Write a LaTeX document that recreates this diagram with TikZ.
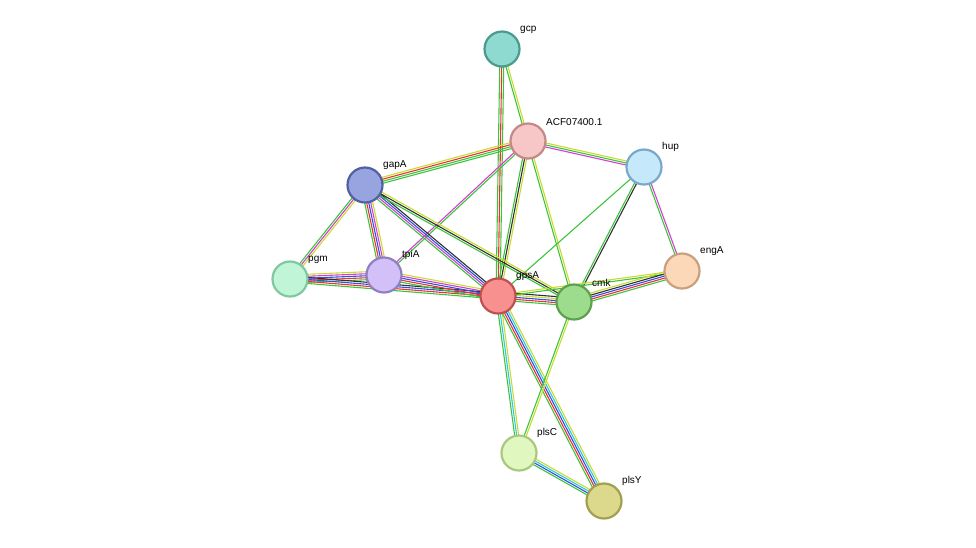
\documentclass[tikz,border=0pt]{standalone}
\usepackage{fontspec}
\setmainfont{Liberation Sans}
\usetikzlibrary{calc}
\definecolor{eg}{HTML}{3DC43D}
\definecolor{er}{HTML}{F03030}
\definecolor{eb}{HTML}{3050E0}
\definecolor{ec}{HTML}{30C8E0}
\definecolor{em}{HTML}{D040D0}
\definecolor{ey}{HTML}{C8DC30}
\definecolor{ek}{HTML}{303030}
\definecolor{fgcp}{HTML}{8ED9D0}\definecolor{dgcp}{HTML}{4A9A8E}
\definecolor{facf}{HTML}{F7C6C6}\definecolor{dacf}{HTML}{C48888}
\definecolor{fhup}{HTML}{C6E8FB}\definecolor{dhup}{HTML}{7AA8C8}
\definecolor{fgapA}{HTML}{97A4E0}\definecolor{dgapA}{HTML}{5060A0}
\definecolor{fpgm}{HTML}{C0F5D8}\definecolor{dpgm}{HTML}{80C8A0}
\definecolor{ftpiA}{HTML}{D4C0F8}\definecolor{dtpiA}{HTML}{9080C0}
\definecolor{fgpsA}{HTML}{F99090}\definecolor{dgpsA}{HTML}{C05050}
\definecolor{fcmk}{HTML}{9CDC8C}\definecolor{dcmk}{HTML}{5CA050}
\definecolor{fengA}{HTML}{FCD8B8}\definecolor{dengA}{HTML}{C8A080}
\definecolor{fplsC}{HTML}{E0F8C0}\definecolor{dplsC}{HTML}{A8C880}
\definecolor{fplsY}{HTML}{DCD88C}\definecolor{dplsY}{HTML}{A0A050}
\tikzstyle{prot}=[circle, line width=2.2pt, minimum size=35pt, inner sep=0pt]
\tikzstyle{lbl}=[font=\fontsize{10}{11}\selectfont, anchor=south west, inner sep=1pt]
\newcommand\link[3]{%
  \foreach \c [count=\n] in {#3} {\global\let\nlines\n}
  \foreach \c [count=\i] in {#3} {
    \pgfmathsetmacro\off{(\i-(\nlines+1)/2)*2}
    \draw[\c, line width=1.1pt] ($(#1)!\off pt!90:(#2)$) -- ($(#2)!\off pt!-90:(#1)$);
  }}

\begin{document}
\begin{tikzpicture}[x=1pt,y=-1pt]
  \useasboundingbox (0,0) rectangle (976,547);
  % protein positions
  \coordinate (gcp) at (502,49);
  \coordinate (acf) at (528,141);
  \coordinate (hup) at (644,167);
  \coordinate (gapA) at (365,185);
  \coordinate (pgm) at (290,279);
  \coordinate (tpiA) at (384,275);
  \coordinate (gpsA) at (498,296);
  \coordinate (cmk) at (574,302);
  \coordinate (engA) at (682,271);
  \coordinate (plsC) at (519,453);
  \coordinate (plsY) at (604,501);

  % edges
  \link{gcp}{gpsA}{eg,er,eg}
  \link{gcp}{acf}{eg,ey}
  \link{acf}{gapA}{ey,er,eg,eg}
  \link{acf}{hup}{em,eg,ey}
  \link{acf}{tpiA}{em,eg}
  \link{acf}{gpsA}{eg,ek,ey}
  \link{acf}{cmk}{eg,ey}
  \link{hup}{gpsA}{eg}
  \link{hup}{cmk}{eg,ek}
  \link{hup}{engA}{eg,em}
  \link{gapA}{pgm}{eg,em,ey}
  \link{gapA}{tpiA}{eg,er,eb,em,ey}
  \link{gapA}{gpsA}{eg,em,eb,ek}
  \link{gapA}{cmk}{eg,ek,ey}
  \link{pgm}{tpiA}{eg,er,eb,em,ey}
  \link{pgm}{gpsA}{eg,er,eb,ek}
  \link{tpiA}{gpsA}{eg,er,eb,em,ey}
  \link{gpsA}{cmk}{eg,er,eb,ey,ek}
  \link{gpsA}{engA}{eg,ey}
  \link{cmk}{engA}{eg,er,eb,ek,ey}
  \link{gpsA}{plsC}{eg,ec,ey}
  \link{gpsA}{plsY}{eg,er,eb,ec,ey}
  \link{cmk}{plsC}{eg,ey}
  \link{plsC}{plsY}{eg,eb,ec,ey}

  % proteins
  \foreach \p in {gcp,acf,hup,gapA,pgm,tpiA,gpsA,cmk,engA,plsC,plsY}
    \node[prot, fill=f\p, draw=d\p] (n\p) at (\p) {};

  % labels
  \node[lbl] at ($(gcp)+(17,-14)$) {gcp};
  \node[lbl] at ($(acf)+(17,-14)$) {ACF07400.1};
  \node[lbl] at ($(hup)+(17,-14)$) {hup};
  \node[lbl] at ($(gapA)+(17,-14)$) {gapA};
  \node[lbl] at ($(pgm)+(17,-14)$) {pgm};
  \node[lbl] at ($(tpiA)+(17,-14)$) {tpiA};
  \node[lbl] at ($(gpsA)+(17,-14)$) {gpsA};
  \node[lbl] at ($(cmk)+(17,-14)$) {cmk};
  \node[lbl] at ($(engA)+(17,-14)$) {engA};
  \node[lbl] at ($(plsC)+(17,-14)$) {plsC};
  \node[lbl] at ($(plsY)+(17,-14)$) {plsY};
\end{tikzpicture}
\end{document}
